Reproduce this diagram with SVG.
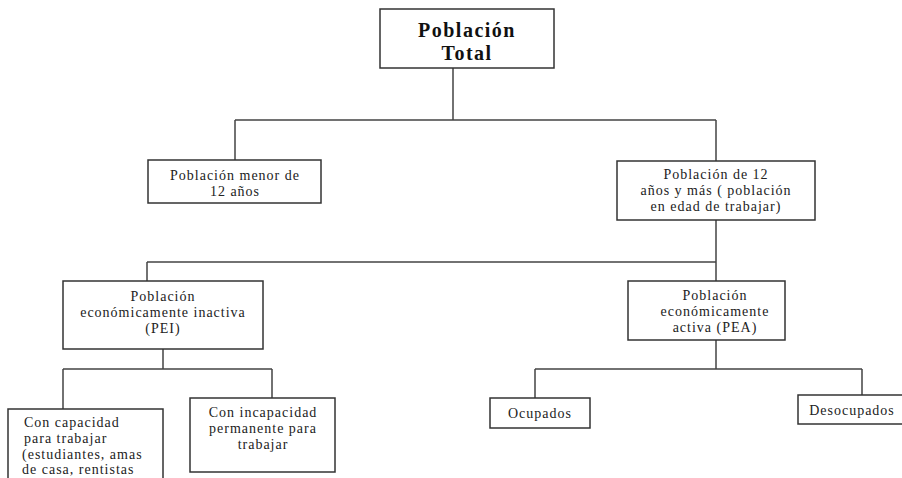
<svg xmlns="http://www.w3.org/2000/svg" width="902" height="478" viewBox="0 0 902 478">
<style>
.box{fill:#fff;stroke:#333;stroke-width:1.5}
.t{font-family:"Liberation Serif","Times New Roman",serif;font-size:14px;fill:#222;letter-spacing:1px}
.c{text-anchor:middle}
.title{font-family:"Liberation Serif","Times New Roman",serif;font-size:20px;font-weight:bold;fill:#111;letter-spacing:1.5px;text-anchor:middle}
.conn{fill:none;stroke:#444;stroke-width:1.5}
</style>
<rect width="902" height="478" fill="#fff"/>
<g id="connectors" class="conn">
<path d="M453,68 V120 M235,120 H716 M235,120 V160 M716,120 V161"/>
<path d="M716,220 V262 M147,262 H716 M147,262 V281 M716,262 V281"/>
<path d="M163,349 V369 M63,369 H272 M63,369 V409 M272,369 V398"/>
<path d="M716,340 V369 M535,369 H862 M535,369 V398 M862,369 V395"/>
</g>
<g id="total">
<rect class="box" x="380" y="9" width="174" height="59"/>
<text class="title" x="467" y="37">Población</text>
<text class="title" x="467" y="60">Total</text>
</g>
<g id="menor12">
<rect class="box" x="148" y="160" width="173" height="43"/>
<text class="t c" x="235" y="180">Población menor de</text>
<text class="t c" x="235" y="196">12 años</text>
</g>
<g id="mayor12">
<rect class="box" x="617" y="161" width="198" height="59"/>
<text class="t c" x="716" y="179">Población de 12</text>
<text class="t c" x="716" y="195">años y más ( población</text>
<text class="t c" x="716" y="211">en edad de trabajar)</text>
</g>
<g id="pei">
<rect class="box" x="63" y="281" width="200" height="68"/>
<text class="t c" x="163" y="301">Población</text>
<text class="t c" x="163" y="317">económicamente inactiva</text>
<text class="t c" x="163" y="333">(PEI)</text>
</g>
<g id="pea">
<rect class="box" x="628" y="281" width="157" height="59"/>
<text class="t c" x="715" y="300">Población</text>
<text class="t c" x="715" y="316">económicamente</text>
<text class="t c" x="715" y="332">activa (PEA)</text>
</g>
<g id="con-capacidad">
<rect class="box" x="8" y="409" width="155" height="80"/>
<text class="t" x="24" y="427">Con capacidad</text>
<text class="t" x="24" y="443">para trabajar</text>
<text class="t" x="22" y="459">(estudiantes, amas</text>
<text class="t" x="22" y="474">de casa, rentistas</text>
</g>
<g id="con-incapacidad">
<rect class="box" x="190" y="398" width="145" height="74"/>
<text class="t c" x="263" y="417">Con incapacidad</text>
<text class="t c" x="263" y="433">permanente para</text>
<text class="t c" x="263" y="449">trabajar</text>
</g>
<g id="ocupados">
<rect class="box" x="490" y="398" width="100" height="30"/>
<text class="t c" x="540" y="418">Ocupados</text>
</g>
<g id="desocupados">
<rect class="box" x="798" y="395" width="110" height="29"/>
<text class="t c" x="852" y="415">Desocupados</text>
</g>
</svg>
